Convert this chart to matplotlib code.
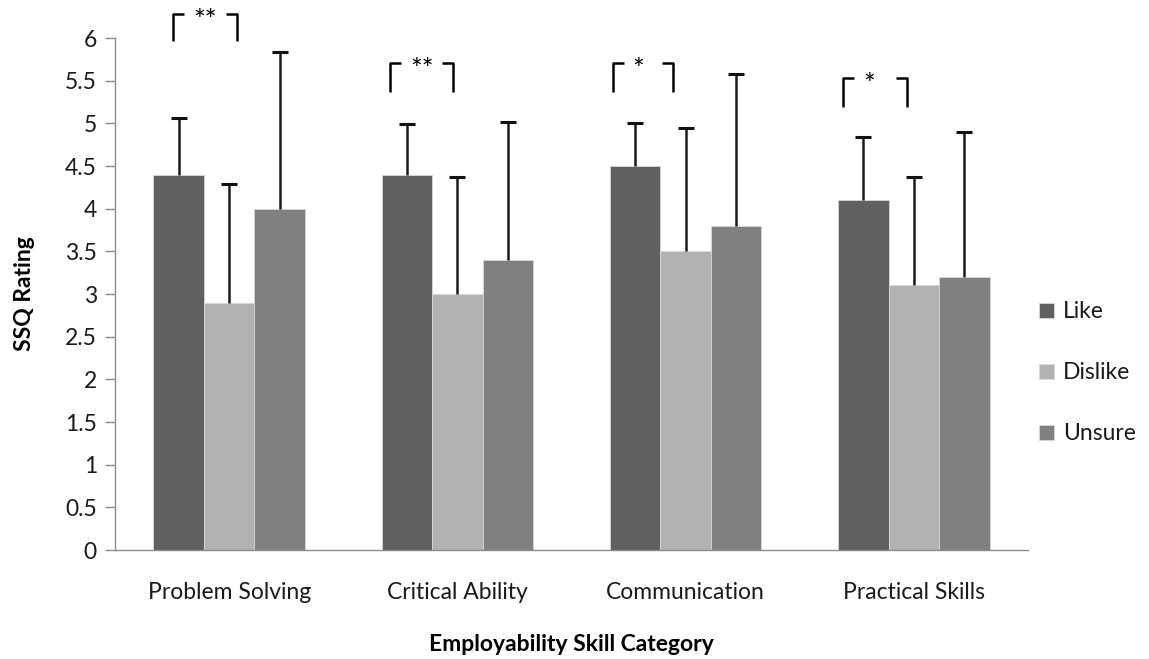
import matplotlib
matplotlib.use("Agg")
import matplotlib.pyplot as plt
import numpy as np
from matplotlib.patches import Patch

# Mean SSQ ratings and upper standard-deviation bars per group
categories = ["Problem Solving", "Critical Ability", "Communication", "Practical Skills"]
groups = ["Like", "Dislike", "Unsure"]
like_mean = [4.4, 4.4, 4.5, 4.1]
dislike_mean = [2.9, 3.0, 3.5, 3.1]
unsure_mean = [4.0, 3.4, 3.8, 3.2]
like_sd = [0.66, 0.59, 0.51, 0.74]
dislike_sd = [1.39, 1.37, 1.45, 1.27]
unsure_sd = [1.84, 1.62, 1.78, 1.70]
significance = ["**", "**", "*", "*"]
y_ticks = [0, 0.5, 1, 1.5, 2, 2.5, 3, 3.5, 4, 4.5, 5, 5.5, 6]

colors = ["#606060", "#b2b2b2", "#808080"]

# Bracket layout: (left offset, right offset, top y, bottom y, star x offset)
bracket_layout = [
    (-0.246, 0.035, 6.28, 5.96, -0.158),
    (-0.295, -0.020, 5.71, 5.37, -0.208),
    (-0.318, -0.055, 5.71, 5.37, -0.232),
    (-0.310, -0.030, 5.53, 5.19, -0.222),
]

plt.rcParams["font.family"] = ["Lato", "DejaVu Sans"]
FS = 16.5

fig = plt.figure(figsize=(11.49, 6.59), dpi=100)
ax = fig.add_axes([0.1001, 0.1654, 0.7946, 0.7769])

x = np.arange(len(categories))
width = 0.221
means = [like_mean, dislike_mean, unsure_mean]
sds = [like_sd, dislike_sd, unsure_sd]
for i, (m, s) in enumerate(zip(means, sds)):
    pos = x + (i - 1) * width
    m = np.asarray(m)
    s = np.asarray(s)
    ax.bar(pos, m, width, color=colors[i], edgecolor="#d8d8d8", linewidth=0.6,
           label=groups[i], zorder=2)
    # upper-only error bars: stem plus cap at the top
    ax.vlines(pos, m, m + s, color="#1a1a1a", linewidth=1.8, zorder=3)
    ax.plot(pos, m + s, linestyle="none", marker="_", markersize=12,
            markeredgewidth=2.2, color="#111111", zorder=3)

ax.set_xlim(-0.5, len(categories) - 0.5)
ax.set_ylim(0, 6)
ax.set_yticks(y_ticks)
ax.set_yticklabels([f"{t:g}" for t in y_ticks])
ax.set_xticks(x)
ax.set_xticklabels(categories)

for side in ["top", "right"]:
    ax.spines[side].set_visible(False)
for side in ["left", "bottom"]:
    ax.spines[side].set_color("#8c8c8c")
    ax.spines[side].set_linewidth(1.0)

ax.tick_params(axis="y", length=7, width=1.0, color="#8c8c8c", labelsize=FS,
               pad=6, labelcolor="#1a1a1a")
ax.tick_params(axis="x", length=0, labelsize=FS, pad=23, labelcolor="#1a1a1a")

ax.set_ylabel("SSQ Rating", fontsize=FS, fontweight="bold", labelpad=22)
ax.set_xlabel("Employability Skill Category", fontsize=FS, fontweight="bold",
              labelpad=22)

# Significance brackets above the Like/Dislike pairs
hook = 0.048
for xi, (lo, hi, top, bot, sx), mark in zip(x, bracket_layout, significance):
    ax.plot([xi + lo, xi + lo, xi + lo + hook], [bot, top, top], color="black",
            lw=1.8, clip_on=False, solid_capstyle="butt", zorder=4)
    ax.plot([xi + hi - hook, xi + hi, xi + hi], [top, top, bot], color="black",
            lw=1.8, clip_on=False, solid_capstyle="butt", zorder=4)
    ax.text(xi + sx, top + 0.06, mark, ha="left", va="top", fontsize=20,
            clip_on=False)

handles = [Patch(facecolor=c, edgecolor="#d8d8d8", linewidth=0.6) for c in colors]
ax.legend(handles, groups, loc="center left", bbox_to_anchor=(1.012, 0.346),
          frameon=False, fontsize=FS, handlelength=0.65, handleheight=0.65,
          handletextpad=0.4, labelspacing=1.75, labelcolor="#1a1a1a",
          borderaxespad=0, borderpad=0)

fig.savefig("out.png", dpi=100)
